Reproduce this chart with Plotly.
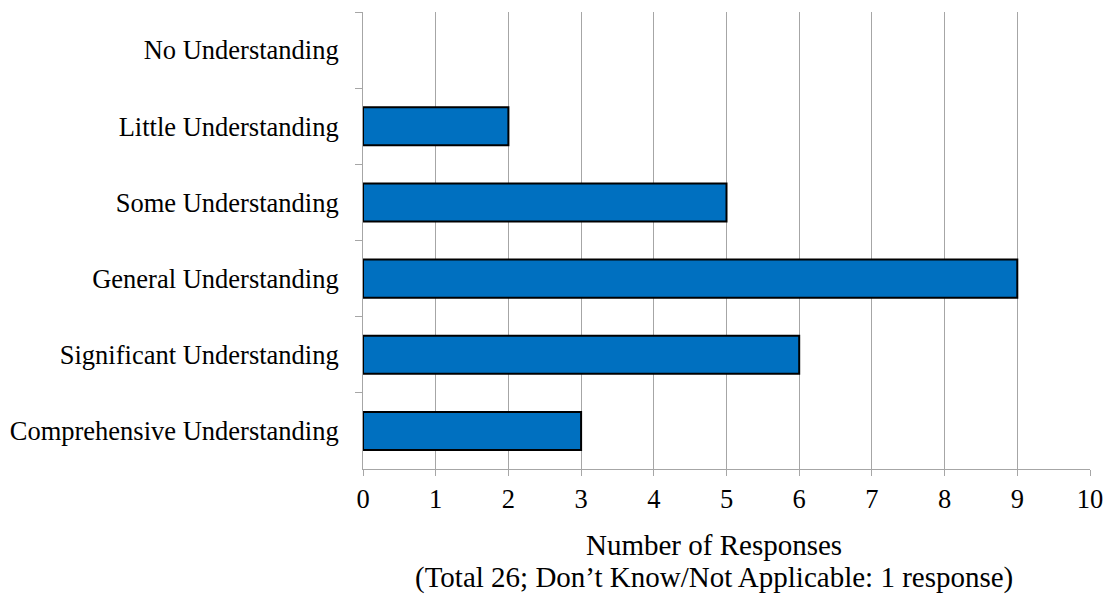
import plotly.graph_objects as go

categories = [
    "No Understanding",
    "Little Understanding",
    "Some Understanding",
    "General Understanding",
    "Significant Understanding",
    "Comprehensive Understanding",
]
responses = [0, 2, 5, 9, 6, 3]
x_ticks = list(range(0, 11))
title_lines = [
    "Number of Responses",
    "(Total 26; Don\u2019t Know/Not Applicable: 1 response)",
]

FONT = "Liberation Serif, Times New Roman, serif"
TICK_SIZE = 26.5
TITLE_SIZE = 29
GRID = "#a6a6a6"

# no outline on empty bars so a zero count leaves no sliver
outline_widths = [2 if v > 0 else 0 for v in responses]

fig = go.Figure(
    go.Bar(
        x=responses,
        y=categories,
        orientation="h",
        marker=dict(color="#0070C0", line=dict(color="#000000", width=outline_widths)),
        width=0.5,
        hoverinfo="x+y",
    )
)

fig.update_layout(
    width=1108,
    height=594,
    margin=dict(l=363, r=18, t=12, b=125),
    paper_bgcolor="white",
    plot_bgcolor="white",
    showlegend=False,
    font=dict(family=FONT, size=TICK_SIZE, color="#000000"),
)

# two-line axis caption below the tick labels
for line_text, y_pos in zip(title_lines, [-0.167, -0.238]):
    fig.add_annotation(
        text=line_text,
        xref="paper",
        yref="paper",
        x=0.483,
        y=y_pos,
        xanchor="center",
        yanchor="middle",
        showarrow=False,
        font=dict(family=FONT, size=TITLE_SIZE, color="#000000"),
    )

fig.update_xaxes(
    range=[0, 10],
    tickvals=x_ticks,
    ticktext=[str(v) for v in x_ticks],
    automargin=False,
    showgrid=True,
    gridcolor=GRID,
    gridwidth=1,
    zeroline=False,
    showline=True,
    linecolor=GRID,
    linewidth=1,
    ticks="outside",
    ticklen=6,
    tickcolor=GRID,
    tickfont=dict(family=FONT, size=TICK_SIZE),
)

fig.update_yaxes(
    categoryorder="array",
    categoryarray=categories,
    autorange="reversed",
    automargin=False,
    tickson="boundaries",
    showgrid=False,
    zeroline=False,
    showline=True,
    linecolor=GRID,
    linewidth=1,
    ticks="outside",
    ticklen=7,
    tickcolor=GRID,
    ticklabelstandoff=18,
    tickfont=dict(family=FONT, size=TICK_SIZE),
)

fig.write_html("out.html")
